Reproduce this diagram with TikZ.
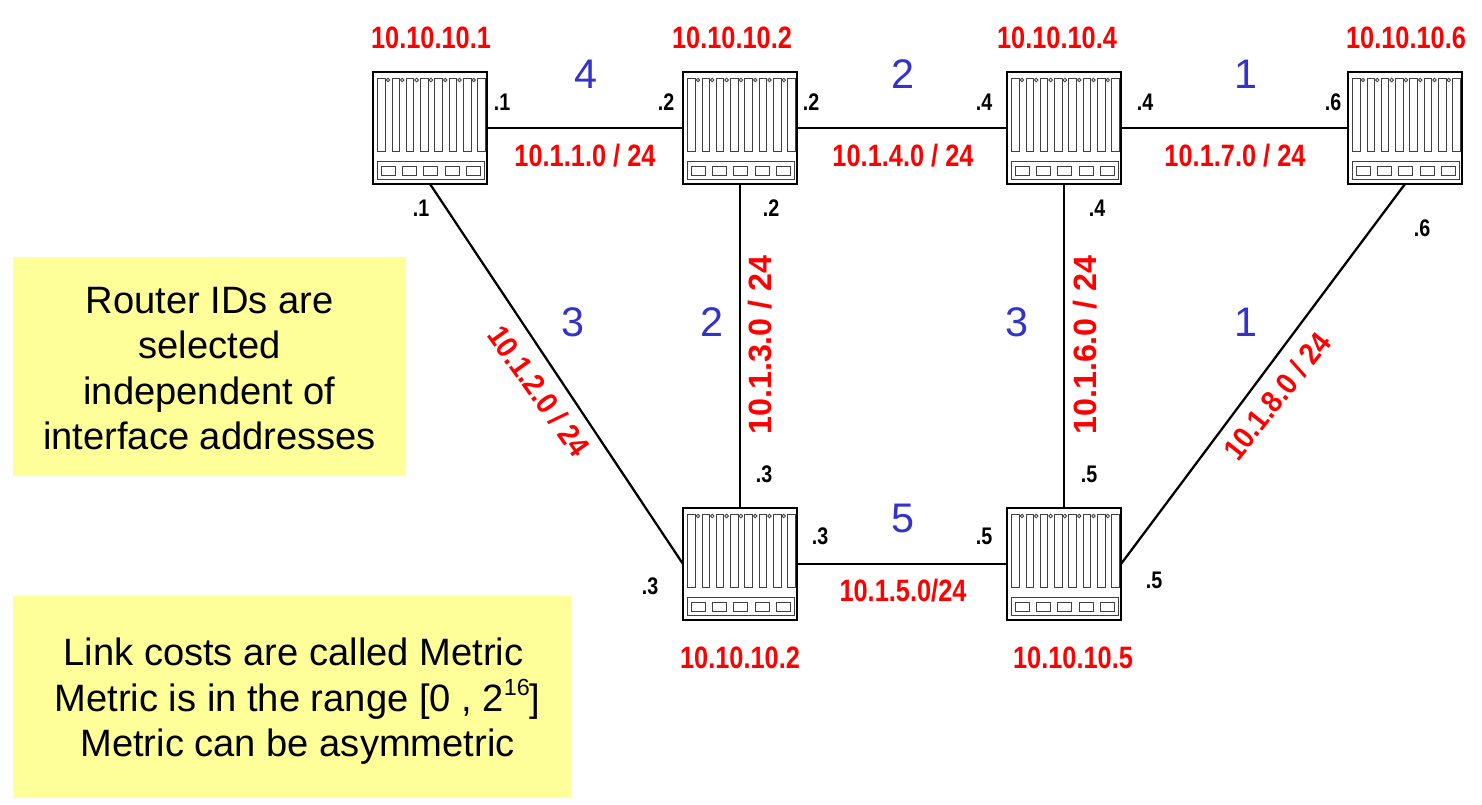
\documentclass[tikz,border=0pt]{standalone}
\usepackage{fontspec}
\setmainfont{Liberation Sans}
\newfontfamily\narrowf[FakeStretch=0.82]{Liberation Sans}
\newfontfamily\midf[FakeStretch=0.9]{Liberation Sans}
\definecolor{costblue}{RGB}{51,51,204}
\definecolor{noteyellow}{RGB}{255,255,153}
\tikzset{
  x=0.75pt,y=-0.75pt,
  routerbox/.style={draw=black,line width=2pt,fill=white,minimum width=85.5pt,minimum height=84pt,inner sep=0pt,outer sep=0pt},
  thin part/.style={draw=black!75,line width=0.65pt},
  link/.style={draw=black,line width=1.7pt},
  idlabel/.style={text=red,font=\narrowf\bfseries\fontsize{23.2}{25}\selectfont,inner sep=0pt},
  netlabel/.style={text=red,font=\narrowf\bfseries\fontsize{23.2}{25}\selectfont,inner sep=0pt},
  vertnet/.style={text=red,font=\bfseries\fontsize{24.2}{26}\selectfont,inner sep=0pt,rotate=90},
  diagnet/.style={text=red,font=\midf\bfseries\fontsize{22.8}{25}\selectfont,inner sep=0pt},
  portlabel/.style={text=black,font=\narrowf\bfseries\fontsize{18}{20}\selectfont,inner sep=0pt},
  costlabel/.style={text=costblue,font=\fontsize{31}{33}\selectfont,inner sep=0pt},
  notebox/.style={fill=noteyellow,draw=none,inner sep=0pt,outer sep=0pt},
  notetext/.style={text=black,font=\fontsize{28.6}{34.1}\selectfont,align=center,inner sep=0pt},
}
\newcommand{\routerat}[3]{%
  \node[routerbox] (#1) at (#2,#3) {};
  \begin{scope}[shift={(#2,#3)}]
    \foreach \i in {0,...,7}{
      \draw[thin part] ({-52.3+14.3*\i},-50) rectangle ++(7.5,73);
    }
    \foreach \i in {0,...,6}{
      \draw[thin part] ({-42+14.3*\i},-48) circle (1.8);
    }
    \draw[thin part] (-53,33) rectangle (54,51);
    \foreach \i in {0,...,4}{
      \draw[thin part] ({-48.7+21.3*\i},38) rectangle ++(14,9);
    }
  \end{scope}
}
\begin{document}
\begin{tikzpicture}
\useasboundingbox (0,0) rectangle (1482,804);
\fill[white] (0,0) rectangle (1482,804);
\node[notebox,minimum width=294.75pt,minimum height=164.25pt] (noteA) at (209.5,366.5) {};
\node[notebox,minimum width=418.5pt,minimum height=151.5pt] (noteB) at (292,697) {};
\node[notetext] at (209.5,368.5) {Router IDs are\\selected\\independent of\\interface addresses};
\node[notetext] at (297.5,701.5) {Link costs are called Metric\hspace*{6pt}\\Metric is in the range [0 , 2\raisebox{0.42em}{\fontsize{17.5}{18}\selectfont 16}]\\Metric can be asymmetric};

\routerat{ra}{430}{128}
\routerat{rb}{740}{128}
\routerat{rd}{1064}{128}
\routerat{rf}{1405}{128}
\routerat{rc}{740}{564}
\routerat{re}{1064}{564}

\draw[link] (ra.east) -- (rb.west);
\draw[link] (rb.east) -- (rd.west);
\draw[link] (rd.east) -- (rf.west);
\draw[link] (rc.east) -- (re.west);
\draw[link] (rb.south) -- (rc.north);
\draw[link] (rd.south) -- (re.north);
\draw[link] (ra.south) -- (rc.west);
\draw[link] (rf.south) -- (re.east);

\node[idlabel] at (431,38) {10.10.10.1};
\node[idlabel] at (732,38) {10.10.10.2};
\node[idlabel] at (1057,38) {10.10.10.4};
\node[idlabel] at (1406,38) {10.10.10.6};
\node[idlabel] at (740,658) {10.10.10.2};
\node[idlabel] at (1073,658) {10.10.10.5};

\node[netlabel] at (585,156) {10.1.1.0 / 24};
\node[netlabel] at (903,156) {10.1.4.0 / 24};
\node[netlabel] at (1235,156) {10.1.7.0 / 24};
\node[netlabel] at (903,591) {10.1.5.0/24};
\node[vertnet] at (760,345) {10.1.3.0 / 24};
\node[vertnet] at (1085,345) {10.1.6.0 / 24};
\node[diagnet,rotate=-54.5] at (539,391) {10.1.2.0 / 24};
\node[diagnet,rotate=51.5] at (1277,396) {10.1.8.0 / 24};

\node[costlabel] at (585.5,74) {4};
\node[costlabel] at (903,74) {2};
\node[costlabel] at (1246,74) {1};
\node[costlabel] at (572.5,322) {3};
\node[costlabel] at (712,322) {2};
\node[costlabel] at (1016.5,322) {3};
\node[costlabel] at (1246,322) {1};
\node[costlabel] at (903,518) {5};

\node[portlabel] at (502,102) {.1};
\node[portlabel] at (666,102) {.2};
\node[portlabel] at (811,102) {.2};
\node[portlabel] at (984,102) {.4};
\node[portlabel] at (1145,102) {.4};
\node[portlabel] at (1333,102) {.6};
\node[portlabel] at (421,208) {.1};
\node[portlabel] at (771,208) {.2};
\node[portlabel] at (1097,208) {.4};
\node[portlabel] at (1422,228) {.6};
\node[portlabel] at (764,474) {.3};
\node[portlabel] at (1089,474) {.5};
\node[portlabel] at (820,536) {.3};
\node[portlabel] at (984,536) {.5};
\node[portlabel] at (650,586) {.3};
\node[portlabel] at (1154,580) {.5};
\end{tikzpicture}
\end{document}
